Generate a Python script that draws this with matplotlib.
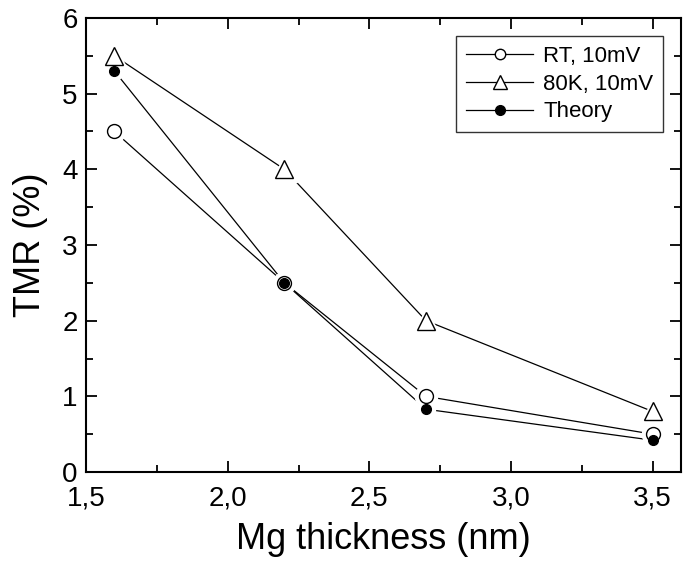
import matplotlib
matplotlib.use("Agg")
import matplotlib.pyplot as plt
from matplotlib.ticker import MultipleLocator, FuncFormatter

## data
thickness = [1.6, 2.2, 2.7, 3.5]
tmr_rt = [4.5, 2.5, 1.0, 0.5]
tmr_80k = [5.5, 4.0, 2.0, 0.8]
tmr_theory = [5.3, 2.5, 0.83, 0.42]

plt.rcParams["font.family"] = ["Liberation Sans", "DejaVu Sans"]


def comma_fmt(val, pos):
    return f"{val:.1f}".replace(".", ",")


def main() -> None:
    fig = plt.figure(figsize=(6.91, 5.61), dpi=100)
    ax = fig.add_axes([0.1245, 0.1586, 0.861, 0.8094])

    series = [
        (tmr_rt, dict(marker="o", mfc="white", ms=10, lms=7.5), "RT, 10mV"),
        (tmr_80k, dict(marker="^", mfc="white", ms=13, lms=9.5), "80K, 10mV"),
        (tmr_theory, dict(marker="o", mfc="black", ms=7, lms=7), "Theory"),
    ]
    for ys, style, label in series:
        ax.plot(thickness, ys, color="black", lw=0.9, zorder=2)
        ## white halo so lines stop short of the symbols
        ax.plot(thickness, ys, ls="none", marker=style["marker"],
                ms=style["ms"] + 6, mfc="white", mec="white", zorder=3)
        ax.plot(thickness, ys, ls="none", marker=style["marker"],
                ms=style["ms"], mfc=style["mfc"], mec="black", mew=1.0, zorder=4)
        ax.plot([], [], color="black", lw=0.9, marker=style["marker"],
                ms=style["lms"], mfc=style["mfc"], mec="black", label=label)

    ax.set_xlim(1.5, 3.6)
    ax.set_ylim(0, 6)
    ax.xaxis.set_major_locator(MultipleLocator(0.5))
    ax.xaxis.set_minor_locator(MultipleLocator(0.25))
    ax.xaxis.set_major_formatter(FuncFormatter(comma_fmt))
    ax.yaxis.set_major_locator(MultipleLocator(1))
    ax.yaxis.set_minor_locator(MultipleLocator(0.5))
    ax.tick_params(which="both", direction="in", top=True, right=True,
                   width=1.3, labelsize=20)
    ax.tick_params(axis="x", pad=10)
    ax.tick_params(axis="y", pad=6)
    ax.tick_params(which="major", length=8)
    ax.tick_params(which="minor", length=5)
    for spine in ax.spines.values():
        spine.set_linewidth(1.5)

    ax.set_xlabel("Mg thickness (nm)", fontsize=26, labelpad=7)
    ax.set_ylabel("TMR (%)", fontsize=26, labelpad=10)

    leg = ax.legend(loc="upper right", bbox_to_anchor=(0.97, 0.96), fontsize=16,
                    frameon=True, fancybox=False, edgecolor="black",
                    handlelength=3.0, borderpad=0.45, labelspacing=0.3,
                    handletextpad=0.45, borderaxespad=0)
    leg.get_frame().set_linewidth(1.0)

    fig.savefig("out.png", dpi=100)


if __name__ == "__main__":
    main()
